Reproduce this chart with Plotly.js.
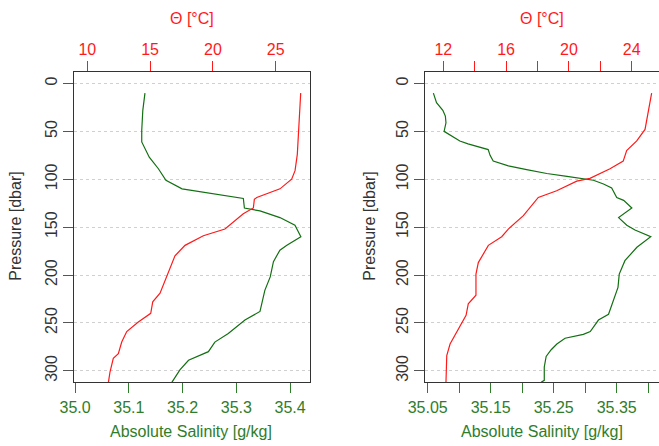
<!DOCTYPE html>
<html>
<head>
<meta charset="utf-8">
<script src="https://cdn.plot.ly/plotly-3.0.1.min.js"></script>
<style>html,body{margin:0;padding:0;background:#fff;}#chart{width:659px;height:446px;}</style>
</head>
<body>
<div id="chart"></div>
<script>
// ---- Left profile ----
var leftSalP = [10, 28, 49, 61, 77, 89, 101, 110, 120, 130, 133, 140, 148, 160, 169, 174, 186, 202, 216, 238, 247, 261, 270, 280, 289, 299, 312];
var leftSal  = [35.130, 35.126, 35.124, 35.124, 35.138, 35.155, 35.169, 35.199, 35.313, 35.315, 35.344, 35.381, 35.409, 35.420, 35.394, 35.381, 35.369, 35.363, 35.353, 35.344, 35.316, 35.285, 35.260, 35.248, 35.211, 35.195, 35.180];
var leftThP  = [10, 39, 74, 91, 100, 110, 119, 121, 130, 136, 143, 152, 159, 169, 180, 202, 219, 228, 240, 249, 259, 270, 282, 287, 301, 312];
var leftTh   = [26.99, 26.88, 26.72, 26.54, 26.27, 25.34, 23.49, 23.30, 23.22, 22.42, 21.76, 20.96, 19.24, 17.78, 16.98, 16.32, 15.79, 15.21, 15.05, 14.06, 13.14, 12.74, 12.47, 12.07, 11.81, 11.68];

// ---- Right profile ----
var rightSalP = [10, 20, 28, 34, 41, 50, 60, 63, 69, 75, 81, 86, 90, 94, 97, 100, 101, 105, 109, 119, 122, 130, 140, 148, 153, 160, 171, 185, 199, 213, 223, 237, 241, 247, 259, 262, 266, 272, 278, 285, 296, 310, 312];
var rightSal  = [35.059, 35.064, 35.074, 35.078, 35.079, 35.076, 35.101, 35.114, 35.146, 35.149, 35.154, 35.178, 35.207, 35.239, 35.271, 35.308, 35.313, 35.329, 35.342, 35.350, 35.361, 35.374, 35.353, 35.366, 35.379, 35.404, 35.382, 35.363, 35.354, 35.352, 35.347, 35.339, 35.337, 35.321, 35.308, 35.297, 35.268, 35.255, 35.246, 35.238, 35.235, 35.235, 35.230];
var rightThP  = [10, 28, 48, 60, 70, 81, 89, 99, 102, 112, 119, 138, 143, 152, 160, 169, 187, 199, 221, 230, 242, 254, 272, 284, 312];
var rightTh   = [25.27, 25.06, 24.85, 24.32, 23.68, 23.46, 22.62, 21.34, 20.50, 19.22, 18.05, 17.10, 16.78, 16.14, 15.72, 14.87, 14.23, 14.08, 14.08, 13.59, 13.45, 13.06, 12.43, 12.22, 12.17];

// ---- Ticks ----
var pTicks = [0, 50, 100, 150, 200, 250, 300];
var leftSalTicks = [35.0, 35.1, 35.2, 35.3, 35.4];
var leftSalText = ['35.0', '35.1', '35.2', '35.3', '35.4'];
var leftThTicks = [10, 15, 20, 25];
var rightSalTicks = [35.05, 35.10, 35.15, 35.20, 35.25, 35.30, 35.35, 35.40];
var rightSalText = ['35.05', '', '35.15', '', '35.25', '', '35.35', ''];
var rightThTicks = [12, 14, 16, 18, 20, 22, 24];
var rightThText = ['12', '', '16', '', '20', '', '24'];

var RED = '#ff1a1a', GREEN_LINE = '#127012', GREEN_TXT = '#2f7d2a', AX = '#333333';
var FONT = 'Liberation Sans, Arial, sans-serif';
var W = 659, H = 446;
function px(x){ return x / W; }
function py(y){ return 1 - y / H; }

var traces = [
  {x: leftSal, y: leftSalP, xaxis: 'x', yaxis: 'y', mode: 'lines', line: {color: GREEN_LINE, width: 1.2}, name: 'SA', showlegend: false},
  {x: leftTh, y: leftThP, xaxis: 'x2', yaxis: 'y', mode: 'lines', line: {color: RED, width: 1.2}, name: 'Θ', showlegend: false},
  {x: rightSal, y: rightSalP, xaxis: 'x3', yaxis: 'y2', mode: 'lines', line: {color: GREEN_LINE, width: 1.2}, name: 'SA', showlegend: false},
  {x: rightTh, y: rightThP, xaxis: 'x4', yaxis: 'y2', mode: 'lines', line: {color: RED, width: 1.2}, name: 'Θ', showlegend: false}
];

var tickFont = {family: FONT, size: 16};
var yBase = {
  range: [312, -12], tickvals: pTicks, ticks: 'outside', ticklen: 10, tickcolor: '#555',
  tickangle: -90, tickfont: {family: FONT, size: 16, color: '#333'},
  showline: true, linecolor: AX, linewidth: 1,
  showgrid: true, gridcolor: '#d0d0d0', griddash: 'dot', gridwidth: 1, zeroline: false
};
function xBottom(domain, range, vals, text){
  return {domain: domain, range: range, tickvals: vals, ticktext: text, ticks: 'outside', ticklen: 10,
    tickcolor: GREEN_TXT, tickfont: {family: FONT, size: 16, color: GREEN_TXT},
    showline: true, linecolor: AX, linewidth: 1, showgrid: false, zeroline: false};
}
function xTop(overlay, range, vals, text){
  return {overlaying: overlay, side: 'top', range: range, tickvals: vals, ticktext: text, ticks: 'outside', ticklen: 10,
    tickcolor: RED, tickfont: {family: FONT, size: 16, color: RED},
    showline: true, linecolor: AX, linewidth: 1, showgrid: false, zeroline: false};
}

var dL = [px(74), px(310)], dR = [px(425), 1];
var xa = xBottom(dL, [34.998, 35.437], leftSalTicks, leftSalText); xa.anchor = 'y';
var xa2 = xTop('x', [8.941, 27.73], leftThTicks, leftThTicks.map(String)); xa2.anchor = 'y';
var xa3 = xBottom(dR, [35.0457, 35.4171], rightSalTicks, rightSalText); xa3.anchor = 'y2';
var xa4 = xTop('x3', [10.834, 25.739], rightThTicks, rightThText); xa4.anchor = 'y2';
var ya = Object.assign({}, yBase, {domain: [py(382.3), py(72)], anchor: 'x', mirror: true});
var ya2 = Object.assign({}, yBase, {domain: [py(382.3), py(72)], anchor: 'x3', mirror: false});

function ann(text, x, y, color, angle){
  return {text: text, x: px(x), y: py(y), xref: 'paper', yref: 'paper', showarrow: false,
    xanchor: 'center', yanchor: 'middle', textangle: angle || 0, font: {family: FONT, size: 16, color: color}};
}

var layout = {
  width: W, height: H, margin: {l: 0, r: 0, t: 0, b: 0},
  paper_bgcolor: '#fff', plot_bgcolor: '#fff', showlegend: false,
  xaxis: xa, xaxis2: xa2, xaxis3: xa3, xaxis4: xa4, yaxis: ya, yaxis2: ya2,
  annotations: [
    ann('Θ [°C]', 191.5, 18, RED),
    ann('Θ [°C]', 541.7, 18, RED),
    ann('Absolute Salinity [g/kg]', 190.8, 431.7, GREEN_TXT),
    ann('Absolute Salinity [g/kg]', 542, 431.7, GREEN_TXT),
    ann('Pressure [dbar]', 16, 226.7, '#333', -90),
    ann('Pressure [dbar]', 370, 226.7, '#333', -90)
  ]
};

Plotly.newPlot('chart', traces, layout, {staticPlot: true, displayModeBar: false});
</script>
</body>
</html>
